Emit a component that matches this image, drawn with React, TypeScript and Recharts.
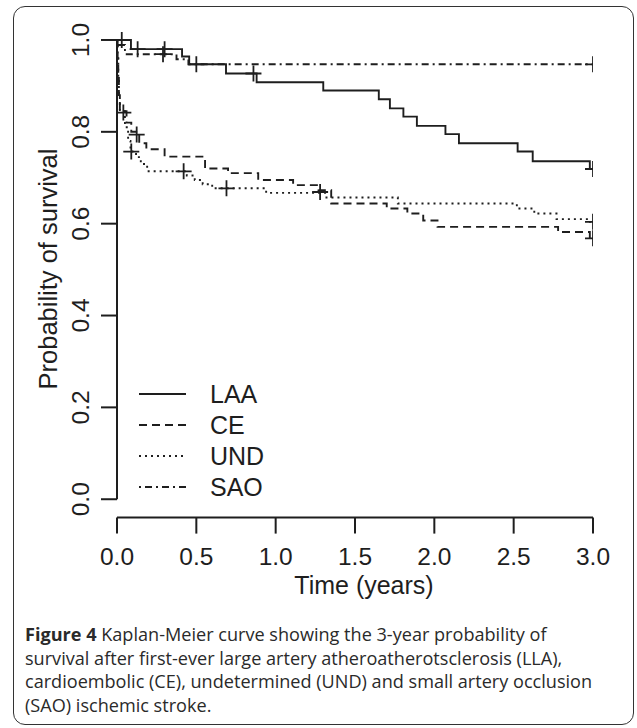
import React from "react";
import {
  ComposedChart,
  Line,
  Scatter,
  XAxis,
  YAxis,
  ReferenceLine,
  Legend,
  Label,
} from "recharts";

// Kaplan-Meier step data (t in years, s = survival)
const laa = [
  { t: 0, s: 1 },
  { t: 0.088, s: 0.98 },
  { t: 0.41, s: 0.964 },
  { t: 0.455, s: 0.947 },
  { t: 0.687, s: 0.927 },
  { t: 0.88, s: 0.908 },
  { t: 1.3, s: 0.89 },
  { t: 1.65, s: 0.871 },
  { t: 1.72, s: 0.851 },
  { t: 1.805, s: 0.833 },
  { t: 1.89, s: 0.813 },
  { t: 2.07, s: 0.795 },
  { t: 2.155, s: 0.775 },
  { t: 2.525, s: 0.757 },
  { t: 2.62, s: 0.736 },
  { t: 2.98, s: 0.719 },
  { t: 3.0, s: 0.719 },
];

const ce = [
  { t: 0, s: 1 },
  { t: 0.004, s: 0.96 },
  { t: 0.008, s: 0.92 },
  { t: 0.012, s: 0.88 },
  { t: 0.018, s: 0.845 },
  { t: 0.06, s: 0.82 },
  { t: 0.09, s: 0.8 },
  { t: 0.14, s: 0.775 },
  { t: 0.185, s: 0.762 },
  { t: 0.3, s: 0.746 },
  { t: 0.555, s: 0.72 },
  { t: 0.7, s: 0.71 },
  { t: 0.89, s: 0.695 },
  { t: 1.11, s: 0.684 },
  { t: 1.27, s: 0.673 },
  { t: 1.35, s: 0.644 },
  { t: 1.7, s: 0.633 },
  { t: 1.83, s: 0.622 },
  { t: 1.93, s: 0.607 },
  { t: 2.02, s: 0.593 },
  { t: 2.78, s: 0.582 },
  { t: 2.98, s: 0.568 },
  { t: 3.0, s: 0.568 },
];

const und = [
  { t: 0, s: 1 },
  { t: 0.004, s: 0.96 },
  { t: 0.008, s: 0.92 },
  { t: 0.012, s: 0.88 },
  { t: 0.018, s: 0.845 },
  { t: 0.05, s: 0.81 },
  { t: 0.07, s: 0.78 },
  { t: 0.085, s: 0.757 },
  { t: 0.12, s: 0.745 },
  { t: 0.15, s: 0.73 },
  { t: 0.19, s: 0.714 },
  { t: 0.44, s: 0.705 },
  { t: 0.49, s: 0.695 },
  { t: 0.54, s: 0.686 },
  { t: 0.6, s: 0.677 },
  { t: 0.94, s: 0.667 },
  { t: 1.32, s: 0.657 },
  { t: 1.77, s: 0.644 },
  { t: 2.52, s: 0.633 },
  { t: 2.63, s: 0.622 },
  { t: 2.77, s: 0.61 },
  { t: 2.98, s: 0.604 },
  { t: 3.0, s: 0.604 },
];

const sao = [
  { t: 0, s: 1 },
  { t: 0.012, s: 0.989 },
  { t: 0.05, s: 0.969 },
  { t: 0.375, s: 0.958 },
  { t: 0.45, s: 0.947 },
  { t: 3.0, s: 0.947 },
];

// censored observations (+ marks)
const laaCensor = [
  { t: 0.03, s: 1 },
  { t: 0.13, s: 0.98 },
  { t: 0.3, s: 0.98 },
  { t: 0.5, s: 0.947 },
  { t: 0.86, s: 0.927 },
  { t: 3.0, s: 0.719 },
];
const ceCensor = [
  { t: 0.04, s: 0.842 },
  { t: 0.124, s: 0.794 },
  { t: 1.28, s: 0.669 },
  { t: 3.0, s: 0.568 },
];
const undCensor = [
  { t: 0.09, s: 0.757 },
  { t: 0.42, s: 0.714 },
  { t: 0.69, s: 0.677 },
  { t: 3.0, s: 0.604 },
];
const saoCensor = [
  { t: 0.29, s: 0.969 },
  { t: 3.0, s: 0.947 },
];

const xTicks = [0, 0.5, 1, 1.5, 2, 2.5, 3];
const yTicks = [0, 0.2, 0.4, 0.6, 0.8, 1];

const INK = "#1e1e1e";
const FONT = "'Liberation Sans', Arial, Helvetica, sans-serif";

const series = [
  { name: "LAA", data: laa, censor: laaCensor, dash: undefined as string | undefined },
  { name: "CE", data: ce, censor: ceCensor, dash: "8 5" },
  { name: "UND", data: und, censor: undCensor, dash: "2 4" },
  { name: "SAO", data: sao, censor: saoCensor, dash: "2 4 7 4" },
];

const Cross = (props: any) => {
  const { cx, cy } = props;
  if (cx == null || cy == null) return null;
  return (
    <path
      d={`M${cx - 8},${cy}H${cx + 8}M${cx},${cy - 8}V${cy + 8}`}
      stroke={INK}
      strokeWidth={1.8}
      fill="none"
    />
  );
};

const XTick = (props: any) => {
  const { x, y, payload } = props;
  return (
    <text x={x} y={y + 29} textAnchor="middle" fontSize={24.5} fontFamily={FONT} fill={INK}>
      {payload.value.toFixed(1)}
    </text>
  );
};

const YTick = (props: any) => {
  const { x, y, payload } = props;
  const bx = x - 10;
  return (
    <text
      x={bx}
      y={y}
      textAnchor="middle"
      fontSize={24.5}
      fontFamily={FONT}
      fill={INK}
      transform={`rotate(-90, ${bx}, ${y})`}
    >
      {payload.value.toFixed(1)}
    </text>
  );
};

const LegendBox = () => (
  <svg width={150} height={130}>
    {series.map((s, i) => {
      const y = 19 + i * 31;
      return (
        <g key={s.name}>
          <line x1={9} x2={56} y1={y} y2={y} stroke={INK} strokeWidth={2} strokeDasharray={s.dash} />
          <text x={80} y={y + 9} fontSize={25} fontFamily={FONT} fill={INK}>
            {s.name}
          </text>
        </g>
      );
    })}
  </svg>
);

export default function App() {
  return (
    <div
      style={{
        position: "absolute",
        left: 0,
        top: 0,
        width: 637,
        height: 728,
        background: "#fff",
        overflow: "hidden",
      }}
    >
      <div
        style={{
          position: "absolute",
          left: 13,
          top: 6,
          width: 621,
          height: 719,
          border: "1.6px solid #333",
          borderRadius: 12,
          boxSizing: "border-box",
        }}
      />
      <div style={{ position: "absolute", left: 0, top: 0 }}>
        <ComposedChart width={637} height={600} margin={{ top: 21.6, right: 44, bottom: 0, left: 0 }}>
          <XAxis
            type="number"
            dataKey="t"
            domain={[0, 3]}
            ticks={xTicks}
            height={82.4}
            tickSize={16}
            tick={<XTick />}
            axisLine={{ stroke: INK, strokeWidth: 2 }}
            tickLine={{ stroke: INK, strokeWidth: 2 }}
            allowDataOverflow
          >
            <Label
              content={() => (
                <text x={364} y={594} textAnchor="middle" fontSize={25} fontFamily={FONT} fill={INK}>
                  Time (years)
                </text>
              )}
            />
          </XAxis>
          <YAxis
            type="number"
            dataKey="s"
            domain={[-0.04, 1.04]}
            ticks={yTicks}
            width={117}
            tickSize={16}
            tick={<YTick />}
            axisLine={false}
            tickLine={{ stroke: INK, strokeWidth: 2 }}
            allowDataOverflow
          >
            <Label
              content={() => (
                <text
                  x={57}
                  y={269}
                  textAnchor="middle"
                  fontSize={25.5}
                  fontFamily={FONT}
                  fill={INK}
                  transform="rotate(-90, 57, 269)"
                >
                  Probability of survival
                </text>
              )}
            />
          </YAxis>
          <ReferenceLine
            segment={[
              { x: 0, y: 0 },
              { x: 0, y: 1 },
            ]}
            stroke={INK}
            strokeWidth={2}
          />
          {series.map((s) => (
            <Line
              key={s.name}
              data={s.data}
              dataKey="s"
              name={s.name}
              type="stepAfter"
              stroke={INK}
              strokeWidth={1.9}
              strokeDasharray={s.dash}
              dot={false}
              activeDot={false}
              isAnimationActive={false}
            />
          ))}
          {series.map((s) => (
            <Scatter
              key={s.name + "-c"}
              data={s.censor}
              dataKey="s"
              shape={<Cross />}
              legendType="none"
              isAnimationActive={false}
            />
          ))}
          <Legend
            layout="vertical"
            align="center"
            verticalAlign="middle"
            content={<LegendBox />}
            wrapperStyle={{ position: "absolute", left: 130, top: 375, width: 150, height: 130 }}
          />
        </ComposedChart>
      </div>
      <div
        style={{
          position: "absolute",
          left: 25,
          top: 623,
          fontFamily: "'Open Sans', 'Noto Sans', sans-serif",
          fontSize: 18.1,
          lineHeight: "23.5px",
          color: "#2a2a2a",
          whiteSpace: "nowrap",
        }}
      >
        <div>
          <b>Figure 4</b> Kaplan-Meier curve showing the 3-year probability of
        </div>
        <div>survival after first-ever large artery atheroatherotsclerosis (LLA),</div>
        <div>cardioembolic (CE), undetermined (UND) and small artery occlusion</div>
        <div>(SAO) ischemic stroke.</div>
      </div>
    </div>
  );
}
